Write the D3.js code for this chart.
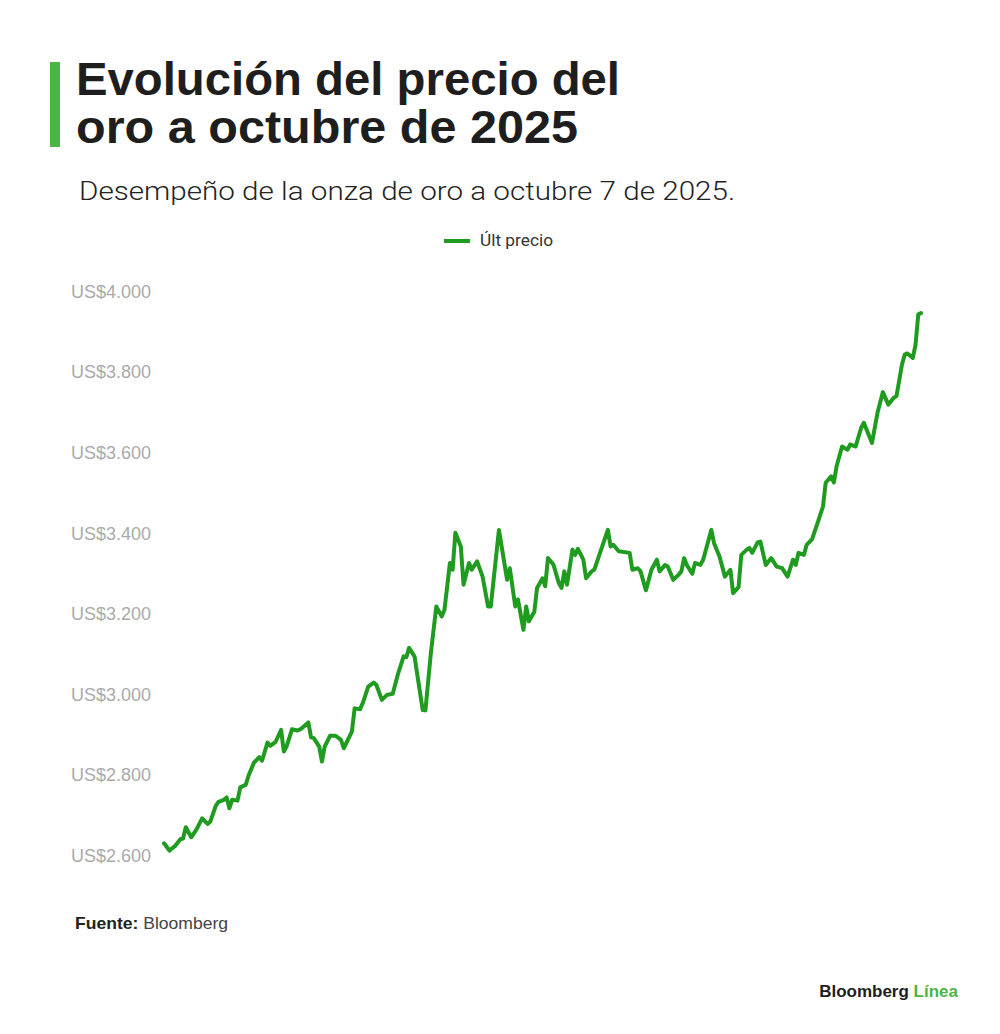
<!DOCTYPE html>
<html>
<head>
<meta charset="utf-8">
<script src="https://cdn.jsdelivr.net/npm/d3@7"></script>
<style>
	body { margin: 0; background: #fff; }
	svg { display: block; font-family: 'Liberation Sans', Arial, sans-serif; }
</style>
</head>
<body>
<svg id="chart" width="1000" height="1034"></svg>
<script>
// precio de cierre de la onza de oro (US$)
let dates = [
	'2025-01-02','2025-01-04','2025-01-06','2025-01-08','2025-01-09','2025-01-10','2025-01-12','2025-01-14','2025-01-16','2025-01-18',
	'2025-01-19','2025-01-21','2025-01-22','2025-01-24','2025-01-25','2025-01-26','2025-01-27','2025-01-29','2025-01-30','2025-02-01',
	'2025-02-02','2025-02-04','2025-02-06','2025-02-07','2025-02-09','2025-02-10','2025-02-12','2025-02-14','2025-02-15','2025-02-16',
	'2025-02-18','2025-02-20','2025-02-21','2025-02-22','2025-02-24','2025-02-25','2025-02-26','2025-02-28','2025-03-01','2025-03-02',
	'2025-03-04','2025-03-06','2025-03-08','2025-03-09','2025-03-12','2025-03-13','2025-03-15','2025-03-16','2025-03-18','2025-03-20',
	'2025-03-21','2025-03-23','2025-03-25','2025-03-27','2025-03-29','2025-03-31','2025-04-01','2025-04-02','2025-04-04','2025-04-07',
	'2025-04-08','2025-04-10','2025-04-12','2025-04-14','2025-04-15','2025-04-17','2025-04-18','2025-04-19','2025-04-21','2025-04-22',
	'2025-04-24','2025-04-25','2025-04-27','2025-04-29','2025-05-01','2025-05-02','2025-05-05','2025-05-08','2025-05-09','2025-05-11',
	'2025-05-12','2025-05-14','2025-05-15','2025-05-16','2025-05-18','2025-05-19','2025-05-21','2025-05-22','2025-05-23','2025-05-25',
	'2025-05-27','2025-05-28','2025-05-29','2025-05-30','2025-06-01','2025-06-02','2025-06-03','2025-06-05','2025-06-06','2025-06-08',
	'2025-06-09','2025-06-14','2025-06-15','2025-06-16','2025-06-18','2025-06-22','2025-06-23','2025-06-25','2025-06-26','2025-06-28',
	'2025-06-30','2025-07-02','2025-07-03','2025-07-05','2025-07-06','2025-07-08','2025-07-10','2025-07-11','2025-07-12','2025-07-13',
	'2025-07-15','2025-07-16','2025-07-18','2025-07-19','2025-07-22','2025-07-23','2025-07-25','2025-07-27','2025-07-29','2025-07-30',
	'2025-08-01','2025-08-02','2025-08-04','2025-08-05','2025-08-06','2025-08-08','2025-08-09','2025-08-11','2025-08-13','2025-08-15',
	'2025-08-17','2025-08-19','2025-08-21','2025-08-22','2025-08-23','2025-08-25','2025-08-26','2025-08-28','2025-08-30','2025-09-01',
	'2025-09-02','2025-09-04','2025-09-05','2025-09-06','2025-09-08','2025-09-10','2025-09-11','2025-09-13','2025-09-15','2025-09-16',
	'2025-09-19','2025-09-21','2025-09-23','2025-09-25','2025-09-27','2025-09-28','2025-09-30','2025-10-01','2025-10-02','2025-10-04',
	'2025-10-05','2025-10-06','2025-10-07'
];

let prices = [
	2629,2611,2622,2639,2641,2669,2644,2664,2691,2677,
	2683,2722,2732,2737,2743,2716,2737,2735,2768,2774,
	2796,2829,2843,2834,2879,2871,2881,2911,2857,2869,
	2912,2909,2912,2917,2929,2892,2890,2869,2832,2869,
	2896,2896,2886,2865,2906,2964,2962,2977,3018,3028,
	3022,2985,2998,3000,3051,3093,3091,3114,3093,2960,
	2959,3101,3217,3192,3209,3325,3308,3400,3366,3271,
	3325,3308,3329,3291,3217,3217,3407,3283,3312,3217,
	3234,3159,3217,3180,3204,3263,3287,3267,3337,3321,
	3275,3263,3304,3271,3358,3345,3360,3333,3287,3304,
	3308,3407,3366,3370,3354,3350,3308,3312,3304,3257,
	3308,3333,3304,3320,3316,3283,3296,3304,3337,3320,
	3298,3325,3320,3333,3407,3374,3341,3291,3308,3250,
	3265,3345,3358,3362,3350,3376,3378,3320,3337,3316,
	3312,3291,3333,3320,3350,3345,3370,3384,3424,3465,
	3524,3540,3525,3565,3614,3606,3619,3614,3660,3673,
	3623,3697,3749,3718,3735,3739,3817,3842,3845,3834,
	3867,3942,3945
];

let priceTicks	= [2600, 2800, 3000, 3200, 3400, 3600, 3800, 4000];
let seriesName	= 'Últ precio';

let green		= '#1f9c1f';
let accent		= '#4bb543';

let svg			= d3.select('#chart');
let parseDate	= d3.timeParse('%Y-%m-%d');
let data		= dates.map((d, i) => ({ date: parseDate(d), price: prices[i] }));

let x	= d3.scaleTime().domain(d3.extent(data, (d) => d.date)).range([164, 921]);
let y	= d3.scaleLinear().domain([2600, 4000]).range([855, 291]);

svg.append('rect').attr('width', 1000).attr('height', 1034).style('fill', '#fff');

// cabecera
svg.append('rect').attr('x', 50).attr('y', 62).attr('width', 10).attr('height', 85).style('fill', accent);

svg.append('text').attr('x', 76).attr('y', 95).attr('textLength', 544).attr('lengthAdjust', 'spacingAndGlyphs')
	.style('font-size', '46px').style('font-weight', 700).style('fill', '#1e1e1e').text('Evolución del precio del');
svg.append('text').attr('x', 76).attr('y', 143).attr('textLength', 502).attr('lengthAdjust', 'spacingAndGlyphs')
	.style('font-size', '46px').style('font-weight', 700).style('fill', '#1e1e1e').text('oro a octubre de 2025');

svg.append('text').attr('x', 79).attr('y', 200).attr('textLength', 656).attr('lengthAdjust', 'spacingAndGlyphs')
	.style('font-family', 'Roboto, sans-serif').style('font-weight', 300).style('font-size', '26px').style('fill', '#222')
	.text('Desempeño de la onza de oro a octubre 7 de 2025.');

// leyenda
let legend	= svg.append('g').attr('transform', 'translate(444,241)');
legend.append('line').attr('x1', 0).attr('x2', 26).style('stroke', green).style('stroke-width', 4);
legend.append('text').attr('x', 36).attr('y', 5).attr('textLength', 73).attr('lengthAdjust', 'spacingAndGlyphs')
	.style('font-family', 'Roboto, sans-serif').style('font-size', '16px').style('fill', '#333').text(seriesName);

// eje y
let fmt		= (v) => 'US$' + d3.format(',')(v).replace(/,/g, '.');
let axis	= svg.append('g').attr('class', 'y-axis')
	.call(d3.axisLeft(y).tickValues(priceTicks).tickFormat(fmt).tickSize(0));

axis.select('.domain').remove();
axis.selectAll('text').attr('x', 71).attr('dy', '0.35em').attr('text-anchor', 'start')
	.style('font-family', "'Liberation Sans', Arial, sans-serif").style('font-size', '18px').style('fill', '#aaa');

// serie
let line	= d3.line().x((d) => x(d.date)).y((d) => y(d.price)).curve(d3.curveLinear);

svg.append('path').datum(data).attr('d', line)
	.style('fill', 'none').style('stroke', green).style('stroke-width', 4)
	.style('stroke-linejoin', 'round').style('stroke-linecap', 'round');

// pie
let source	= svg.append('text').attr('x', 75).attr('y', 929).attr('textLength', 153).attr('lengthAdjust', 'spacingAndGlyphs')
	.style('font-size', '17px').style('fill', '#222');
source.append('tspan').style('font-weight', 700).text('Fuente:');
source.append('tspan').style('fill', '#444').text(' Bloomberg');

let logo	= svg.append('text').attr('x', 958).attr('y', 997).attr('text-anchor', 'end')
	.style('font-size', '17px').style('font-weight', 700).style('fill', '#1e1e1e');
logo.append('tspan').text('Bloomberg ');
logo.append('tspan').style('fill', accent).text('Línea');
</script>
</body>
</html>
